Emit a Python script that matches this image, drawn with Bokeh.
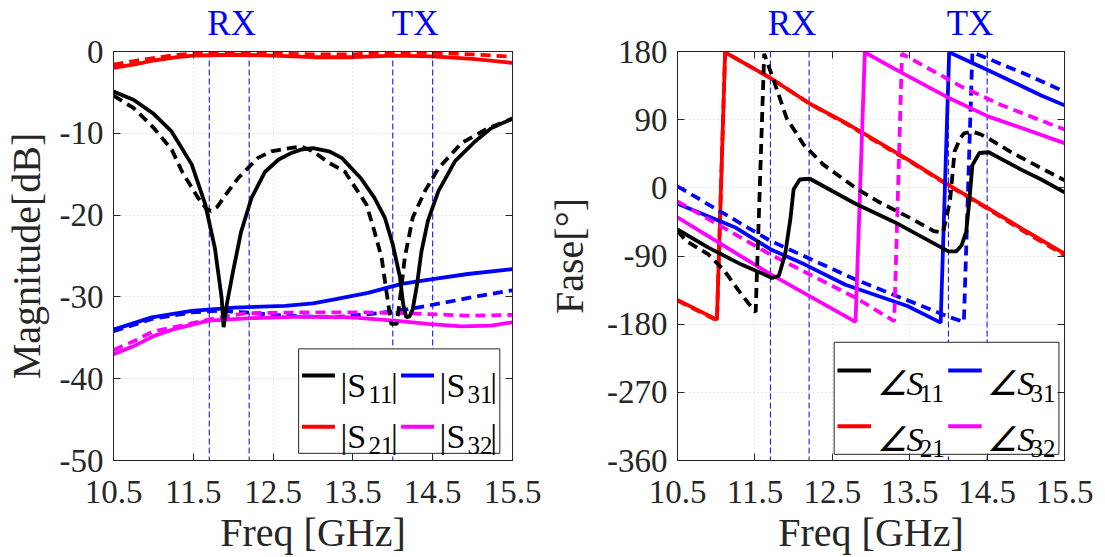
from bokeh.plotting import figure
from bokeh.models import Range1d, FixedTicker, Span, LinearAxis
from bokeh.layouts import row
from bokeh.embed import file_html
from bokeh.resources import INLINE
from bokeh.core.properties import value

# ---------------- data ----------------
x_ticks = [10.5, 11.5, 12.5, 13.5, 14.5, 15.5]
mag_ticks = [0, -10, -20, -30, -40, -50]
phase_ticks = [180, 90, 0, -90, -180, -270, -360]
rx_band = [11.7, 12.2]
tx_band = [14.0, 14.5]
band_names = ["RX", "TX"]

# |S11| (dB)
f_s11 = [10.5, 10.75, 11.0, 11.23, 11.48, 11.65, 11.77, 11.855, 11.88, 11.92, 12.0, 12.1, 12.23, 12.4,
         12.57, 12.73, 12.85, 13.0, 13.2, 13.36, 13.6, 13.77, 13.9, 14.0, 14.09, 14.13, 14.17, 14.21,
         14.25, 14.3, 14.36, 14.44, 14.57, 14.78, 15.03, 15.23, 15.5]
s11 = [-4.9, -5.9, -7.6, -9.8, -13.8, -18.7, -24.0, -30.1, -33.7, -30.9, -26.8, -22.0, -17.9, -14.7,
       -13.2, -12.4, -12.0, -11.8, -12.2, -13.0, -15.5, -17.9, -20.3, -23.6, -27.6, -30.9, -32.5, -32.4,
       -31.5, -28.7, -24.4, -20.7, -17.1, -13.4, -11.0, -9.4, -8.2]
f_s11d = [10.5, 10.75, 11.0, 11.23, 11.36, 11.56, 11.66, 11.72, 11.8, 11.9, 12.06, 12.31, 12.48, 12.71,
          12.85, 13.0, 13.2, 13.4, 13.48, 13.67, 13.77, 13.86, 13.92, 13.98, 14.05, 14.1, 14.15, 14.25,
          14.4, 14.57, 14.86, 15.19, 15.5]
s11d = [-5.4, -6.9, -9.3, -12.0, -14.7, -17.9, -19.2, -19.5, -19.0, -17.6, -15.5, -13.0, -12.2, -11.8,
        -11.6, -12.2, -13.6, -14.7, -15.9, -18.7, -22.0, -25.2, -29.3, -33.3, -33.3, -29.5, -25.2, -20.3,
        -17.1, -14.3, -11.2, -9.4, -8.2]
# |S21|
f_s21 = [10.5, 10.8, 11.0, 11.3, 11.5, 12.0, 12.5, 13.0, 13.5, 14.0, 14.5, 15.0, 15.5]
s21 = [-2.0, -1.5, -1.1, -0.7, -0.5, -0.4, -0.5, -0.7, -0.7, -0.5, -0.6, -0.9, -1.4]
s21d = [-1.6, -1.1, -0.8, -0.4, -0.25, -0.2, -0.25, -0.35, -0.35, -0.15, -0.15, -0.35, -0.65]
# |S31|
f_s31 = [10.5, 10.98, 11.48, 12.02, 12.65, 13.0, 13.27, 13.69, 14.11, 14.52, 14.94, 15.5]
s31 = [-34.0, -32.5, -31.7, -31.3, -31.1, -30.8, -30.3, -29.5, -28.4, -27.8, -27.2, -26.6]
f_s31d = [10.5, 10.98, 11.48, 11.8, 12.15, 12.65, 13.27, 13.82, 14.19, 14.65, 15.07, 15.5]
s31d = [-34.2, -32.7, -31.9, -31.7, -31.9, -32.3, -32.5, -32.0, -31.5, -30.7, -29.9, -29.2]
# |S32|
f_s32 = [10.5, 10.78, 11.0, 11.27, 11.69, 12.23, 12.86, 13.48, 14.02, 14.44, 14.86, 15.23, 15.5]
s32 = [-37.0, -35.9, -34.8, -33.9, -32.9, -32.6, -32.4, -32.5, -32.9, -33.3, -33.6, -33.5, -33.1]
f_s32d = [10.5, 10.78, 11.0, 11.31, 11.73, 12.15, 12.86, 13.69, 14.19, 14.94, 15.5]
s32d = [-36.5, -35.3, -34.2, -33.6, -32.7, -32.0, -31.9, -31.9, -32.0, -32.3, -32.2]

# phase (deg)
f_p11 = [10.5, 10.9, 11.32, 11.66, 11.72, 11.81, 11.89, 11.96, 12.0, 12.08, 12.21, 12.8, 13.3, 13.93,
         14.0, 14.1, 14.17, 14.23, 14.27, 14.31, 14.4, 14.52, 14.94, 15.2, 15.5]
p11 = [-55, -79, -101, -116, -119, -116, -88, -40, -2, 11, 12, -21, -45, -80,
       -84, -84, -76, -58, -18, 30, 46, 47, 24, 11, -6]
f_p11d = [10.5, 10.61, 10.9, 11.11, 11.32, 11.49, 11.51, 11.62, 11.75, 11.91, 12.13, 12.38, 12.8, 13.09,
          13.51, 13.81, 13.93, 14.02, 14.08, 14.15, 14.2, 14.31, 14.41, 14.52, 14.83, 15.2, 15.5]
p11d = [-57, -70, -88, -110, -140, -162, -164, 177, 140, 92, 57, 31, 0, -18,
        -40, -57, -59, -18, 48, 65, 72, 74, 71, 65, 46, 26, 10]
f_p21 = [10.5, 11.01, 11.115, 11.7, 12.21, 12.67, 13.5, 14.0, 14.5, 15.0, 15.5]
p21 = [-148, -174, 179, 145, 111, 86, 36, 4, -26, -57, -87]
p21d = [-149, -175, 179, 145, 111, 85, 35, 3, -27, -59, -89]
f_p31 = [10.5, 11.24, 11.7, 12.14, 12.67, 13.47, 13.9, 14.01, 14.5, 15.2, 15.5]
p31 = [-21, -52, -81, -101, -128, -156, -178, 179, 156, 122, 109]
f_p31d = [10.5, 11.7, 12.8, 14.02, 14.2, 14.31, 15.0, 15.5]
p31d = [2, -70, -121, -171, -177, 179, 150, 127]
f_p32 = [10.5, 11.7, 12.8, 12.92, 13.34, 13.98, 14.52, 15.03, 15.5]
p32 = [-39, -114, -177, 179, 155, 120, 94, 76, 59]
f_p32d = [10.5, 11.7, 12.8, 13.3, 13.4, 14.18, 14.69, 15.5]
p32d = [-18, -88, -145, -176, 177, 133, 109, 77]

# ---------------- style ----------------
FONT = "Liberation Serif"
TXT = "#262626"
BLACK, RED, BLUE, MAG = "#000000", "#FF0000", "#0000FF", "#FF00FF"
LW = 3.8
DASH = "10 6"
H = 557
TOP = 49
FH = 411


def box_axis(ticks):
    # tick marks only (box style on the top / right edges)
    return LinearAxis(ticker=FixedTicker(ticks=ticks),
                      major_label_overrides={t: "" for t in ticks},
                      major_label_text_font_size="1px", major_label_text_color=None,
                      major_label_standoff=0, major_tick_in=7, major_tick_out=0,
                      minor_tick_line_color=None, axis_line_color=TXT, major_tick_line_color=TXT)


def make_fig(width, left, fw, yr, yticks, ylabel, ylabel_standoff):
    p = figure(width=width, height=H, x_range=Range1d(10.5, 15.5), y_range=Range1d(*yr),
               output_backend="svg", toolbar_location=None,
               min_border_left=left, min_border_right=width - left - fw,
               min_border_top=TOP, min_border_bottom=H - TOP - FH)
    p.background_fill_color = "white"
    p.border_fill_color = "white"
    p.outline_line_color = TXT
    p.outline_line_width = 1
    p.xaxis.ticker = FixedTicker(ticks=x_ticks)
    p.yaxis.ticker = FixedTicker(ticks=yticks)
    p.yaxis.major_label_overrides = {t: str(t) for t in yticks}
    for ax in (p.xaxis[0], p.yaxis[0]):
        ax.major_tick_in = 7
        ax.major_tick_out = 0
        ax.minor_tick_line_color = None
        ax.axis_line_color = TXT
        ax.major_tick_line_color = TXT
        ax.major_label_text_font = FONT
        ax.major_label_text_font_size = "33px"
        ax.major_label_text_color = TXT
        ax.axis_label_text_font = FONT
        ax.axis_label_text_font_size = "40px"
        ax.axis_label_text_font_style = "normal"
        ax.axis_label_text_color = TXT
    p.xaxis.major_label_standoff = 20
    p.yaxis.major_label_standoff = 10
    p.xaxis.axis_label = "Freq [GHz]"
    p.xaxis.axis_label_standoff = 4
    p.yaxis.axis_label = ylabel
    p.yaxis.axis_label_standoff = ylabel_standoff
    for g in (p.xgrid[0], p.ygrid[0]):
        g.grid_line_color = "#cfcfcf"
        g.grid_line_dash = "1 3"
        g.grid_line_width = 1
    p.xgrid.ticker = FixedTicker(ticks=x_ticks)
    p.ygrid.ticker = FixedTicker(ticks=yticks)
    for b in rx_band + tx_band:
        p.add_layout(Span(location=b, dimension="height", line_color=BLUE, line_width=1,
                          line_dash="6 3", level="underlay"))
    p.add_layout(box_axis(x_ticks), "above")
    p.add_layout(box_axis(yticks), "right")
    # RX / TX names above the frame, centred on each band
    centers = [sum(rx_band) / 2 + 0.03, sum(tx_band) / 2 + 0.03]
    band_ax = LinearAxis(ticker=FixedTicker(ticks=centers),
                         major_label_overrides={c: n for c, n in zip(centers, band_names)},
                         axis_line_color=None, major_tick_line_color=None, minor_tick_line_color=None,
                         major_label_text_font=FONT, major_label_text_font_size="35px",
                         major_label_text_color=BLUE, major_label_standoff=3)
    p.add_layout(band_ax, "above")
    return p


def to_data(p, fw, px, py):
    xr, yr = p.x_range, p.y_range
    return (xr.start + px / fw * (xr.end - xr.start), yr.end - py / FH * (yr.end - yr.start))


def draw_legend(p, fw, box, cols, rows, entries, prefix, suffix, offs, italic):
    (bx0, bx1, by0, by1) = box
    l, t = to_data(p, fw, bx0, by0)
    r, b = to_data(p, fw, bx1, by1)
    p.quad(left=[l], right=[r], top=[t], bottom=[b], fill_color="white", line_color=TXT, line_width=1)
    line_len, dx_main, dx_sub, dx_bar, dy_main, dy_sub = offs
    for ri, ry in enumerate(rows):
        for ci, cx in enumerate(cols):
            name, color = entries[ri][ci]
            x0, y0 = to_data(p, fw, cx, ry)
            x1, _ = to_data(p, fw, cx + line_len, ry)
            p.line([x0, x1], [y0, y0], line_color=color, line_width=4)
            xm, ym = to_data(p, fw, cx + dx_main, ry + dy_main)
            p.text(x=[xm], y=[ym], text=[prefix + "S"], text_font=value(FONT), text_font_size="34px",
                   text_font_style="italic" if italic else "normal",
                   text_color="black", text_align="left", text_baseline="alphabetic")
            xs, ys = to_data(p, fw, cx + dx_sub, ry + dy_sub)
            p.text(x=[xs], y=[ys], text=[name], text_font=value(FONT), text_font_size="25px",
                   text_color="black", text_align="left", text_baseline="alphabetic")
            if suffix:
                xb, yb = to_data(p, fw, cx + dx_bar, ry + dy_main)
                p.text(x=[xb], y=[yb], text=[suffix], text_font=value(FONT), text_font_size="34px",
                       text_color="black", text_align="left", text_baseline="alphabetic")


# ---------------- left: magnitude ----------------
W1, L1, FW1 = 544, 112, 400
p1 = make_fig(W1, L1, FW1, (-50, 0), mag_ticks, "Magnitude[dB]", 8)
for f, v, c, d in ((f_s21, s21, RED, None), (f_s21, s21d, RED, DASH),
                   (f_s31, s31, BLUE, None), (f_s31d, s31d, BLUE, DASH),
                   (f_s32, s32, MAG, None), (f_s32d, s32d, MAG, DASH),
                   (f_s11, s11, BLACK, None), (f_s11d, s11d, BLACK, DASH)):
    if d:
        p1.line(f, v, line_color=c, line_width=LW, line_dash=d)
    else:
        p1.line(f, v, line_color=c, line_width=LW)
draw_legend(p1, FW1, (185.6, 387.3, 298.8, 403.8), [189, 288.3], [325.5, 377.2],
            [[("11", BLACK), ("31", BLUE)], [("21", RED), ("32", MAG)]],
            "|", "|", (33, 38.6, 66.6, 89.3, 10, 19), False)

# ---------------- right: phase ----------------
W2, L2, FW2 = 560, 124, 396
p2 = make_fig(W2, L2, FW2, (-360, 180), phase_ticks, "Fase[°]", 12)
for f, v, c, d in ((f_p21, p21, RED, None), (f_p21, p21d, RED, DASH),
                   (f_p31, p31, BLUE, None), (f_p31d, p31d, BLUE, DASH),
                   (f_p32, p32, MAG, None), (f_p32d, p32d, MAG, DASH),
                   (f_p11, p11, BLACK, None), (f_p11d, p11d, BLACK, DASH)):
    if d:
        p2.line(f, v, line_color=c, line_width=LW, line_dash=d)
    else:
        p2.line(f, v, line_color=c, line_width=LW)
draw_legend(p2, FW2, (160.3, 390.3, 292.2, 404.8), [163.7, 277], [320.5, 376.5],
            [[("11", BLACK), ("31", BLUE)], [("21", RED), ("32", MAG)]],
            "∠", "", (34.3, 40, 84.3, 0, 13.3, 22.7), True)

layout = row(p1, p2)
open("out.html", "w").write(file_html(layout, INLINE))
